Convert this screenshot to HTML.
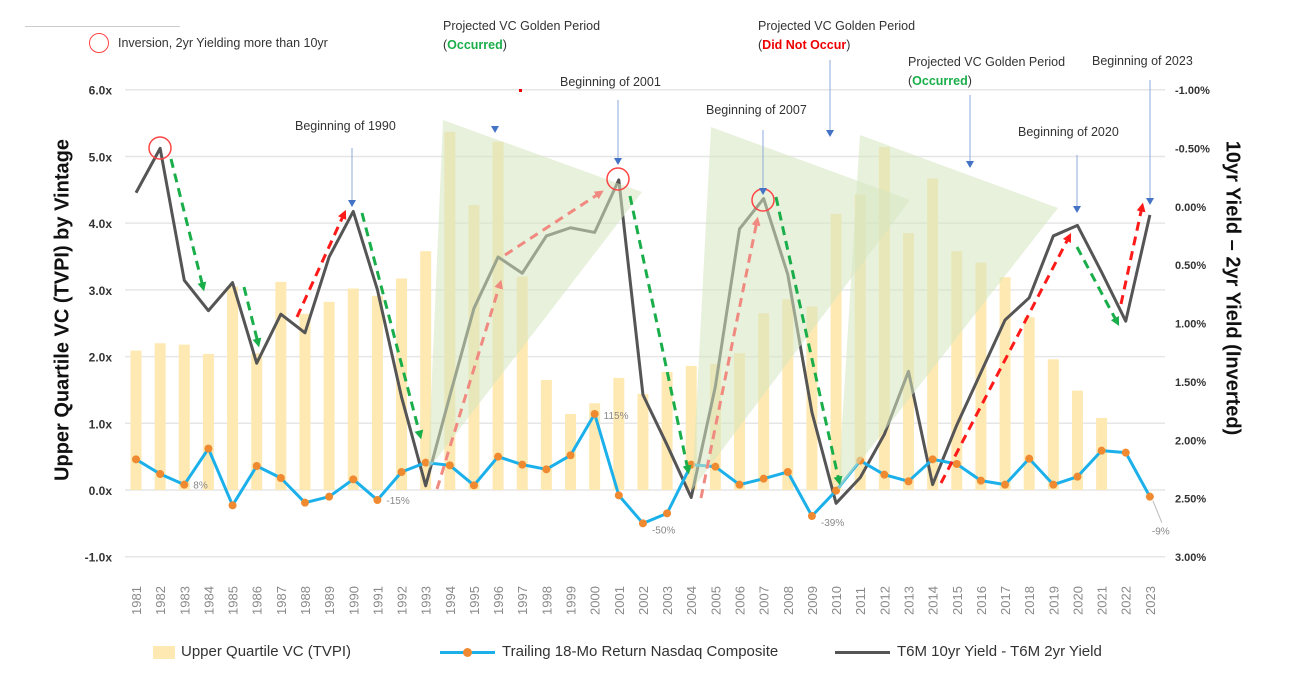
<!DOCTYPE html>
<html><head><meta charset="utf-8"><style>
html,body{margin:0;padding:0;background:#fff;}
svg{display:block;font-family:"Liberation Sans",sans-serif;}
</style></head><body>
<svg id="chart" width="1292" height="690" viewBox="0 0 1292 690">
<defs>
<marker id="ab" markerWidth="8" markerHeight="8" refX="4" refY="6" orient="auto" markerUnits="userSpaceOnUse"><path d="M0,0 L8,0 L4,8 z" fill="#4472c4" transform="rotate(0)"/></marker>
<marker id="ar" viewBox="0 0 10 10" refX="5" refY="5" markerWidth="9" markerHeight="9" orient="auto" markerUnits="userSpaceOnUse"><path d="M0,0 L10,5 L0,10 z" fill="#ff1a1a"/></marker>
<marker id="as" viewBox="0 0 10 10" refX="5" refY="5" markerWidth="9" markerHeight="9" orient="auto" markerUnits="userSpaceOnUse"><path d="M0,0 L10,5 L0,10 z" fill="#f08a80"/></marker>
<marker id="ag" viewBox="0 0 10 10" refX="5" refY="5" markerWidth="9" markerHeight="9" orient="auto" markerUnits="userSpaceOnUse"><path d="M0,0 L10,5 L0,10 z" fill="#1aae4a"/></marker>
<marker id="apg" viewBox="0 0 10 10" refX="5" refY="5" markerWidth="9" markerHeight="9" orient="auto" markerUnits="userSpaceOnUse"><path d="M0,0 L10,5 L0,10 z" fill="#7fd39a"/></marker>
</defs>
<g id="grid"></g>
<g id="bars"></g>
<g id="gray"></g>
<g id="blue"></g>
<g id="tri"></g>
<g id="arrows"></g>
<g id="annot"></g>
<g id="axes"></g>
</svg>
<script>
const years = [];
for (let y = 1981; y <= 2023; y++) years.push(y);
const tvpi = [2.09,2.20,2.18,2.04,3.05,2.05,3.12,2.64,2.82,3.02,2.91,3.17,3.58,5.37,4.27,5.22,3.2,1.65,1.14,1.30,1.68,1.44,1.77,1.86,1.89,2.05,2.65,2.86,2.75,4.14,4.43,5.14,3.85,4.67,3.58,3.41,3.19,2.59,1.96,1.49,1.08,null,null];
const nasdaq = [0.46,0.24,0.08,0.62,-0.23,0.36,0.18,-0.19,-0.10,0.16,-0.15,0.27,0.41,0.37,0.07,0.50,0.38,0.31,0.52,1.14,-0.08,-0.50,-0.35,0.38,0.35,0.08,0.17,0.27,-0.39,-0.01,0.44,0.23,0.13,0.46,0.39,0.14,0.08,0.47,0.08,0.20,0.59,0.56,-0.10];
const spread = [-0.12,-0.50,0.63,0.89,0.65,1.34,0.92,1.08,0.43,0.04,0.71,1.63,2.39,1.62,0.87,0.43,0.57,0.25,0.18,0.22,-0.23,1.61,2.04,2.49,1.54,0.19,-0.07,0.58,1.76,2.54,2.32,1.95,1.41,2.38,1.87,1.42,0.97,0.78,0.25,0.16,0.56,0.98,0.07];
const leftTicks = [6,5,4,3,2,1,0,-1];
const rightTicks = [-1,-0.5,0,0.5,1,1.5,2,2.5,3];
const pctLabels = [[1983,"8%"],[1991,"-15%"],[2000,"115%"],[2002,"-50%"],[2009,"-39%"],[2023,"-9%"]];

const NS = "http://www.w3.org/2000/svg";
const X = yr => 136 + (yr - 1981) * 24.14;
const YL = v => 490 - 66.71 * v;
const YR = r => 206.75 + 116.75 * r;
function mk(parent, tag, attrs, text) {
  const e = document.createElementNS(NS, tag);
  for (const k in attrs) e.setAttribute(k, attrs[k]);
  if (text !== undefined) e.textContent = text;
  document.getElementById(parent).appendChild(e);
  return e;
}

// grid & left ticks
leftTicks.forEach(v => {
  const g = mk("grid", "line", {x1:125, x2:1165, y1:YL(v), y2:YL(v), stroke:"#e6e6e6", "stroke-width":1.5});
  
  
  const t = mk("axes", "text", {x:112, y:YL(v)+5, "text-anchor":"end", "font-size":12, "font-weight":"bold", fill:"#333"}, v.toFixed(1)+"x");
  
  
});
rightTicks.forEach(r => {
  const t = mk("axes", "text", {x:1175, y:YR(r)+4, "font-size":11, "font-weight":"bold", fill:"#333"}, r.toFixed(2)+"%");
  
  
});
years.forEach(yr => {
  const t = mk("axes", "text", {x:0, y:0, transform:`translate(${X(yr)+5},615) rotate(-90)`, "font-size":13, fill:"#8a8a8a"}, yr);
  
  
});

// bars
tvpi.forEach((v, i) => {
  if (v === null) return;
  const b = mk("bars", "rect", {x:X(years[i])-5.5, y:YL(v), width:11, height:YL(0)-YL(v), fill:"#ffe9b3"});
  
  
});

// gray line
const gp = mk("gray", "polyline", {points: spread.map((r,i)=>X(years[i])+","+YR(r)).join(" "), fill:"none", stroke:"#555", "stroke-width":3, "stroke-linejoin":"round"});



// blue line
const bp = mk("blue", "polyline", {points: nasdaq.map((v,i)=>X(years[i])+","+YL(v)).join(" "), fill:"none", stroke:"#1cb0ea", "stroke-width":3, "stroke-linejoin":"round"});


nasdaq.forEach((v,i) => {
  const c = mk("blue", "circle", {cx:X(years[i]), cy:YL(v), r:4, fill:"#f08a30"});
  
  
});
pctLabels.forEach(([yr, lab]) => {
  const i = yr - 1981;
  let x = X(yr)+9, y = YL(nasdaq[i])+4;
  if (yr === 2023) { x = X(yr)+2; y = YL(nasdaq[i])+38; mk("blue","line",{x1:X(yr)+3,y1:YL(nasdaq[i])+4,x2:X(yr)+12,y2:y-12,stroke:"#bbb","stroke-width":1}); }
  if (yr === 2000) { x = X(yr)+9; y = YL(nasdaq[i])+5; }
  if (yr === 2002 || yr === 2009) { y = YL(nasdaq[i])+10; }
  const t = mk("blue", "text", {x:x, y:y, "font-size":10, fill:"#888"}, lab);
  
  
});

// triangles
[[443,120,642,192,428,470],[711,127,910,200,692,490],[860,135,1058,208,838,490]].forEach(p => {
  const t = mk("tri", "polygon", {points:`${p[0]},${p[1]} ${p[2]},${p[3]} ${p[4]},${p[5]}`, fill:"#d6e6c0", opacity:0.55});
  
  
});

// dashed trend arrows
const arr = [
 [171,159,203,287,"#1aae4a","ag"],[244,287,258,343,"#1aae4a","ag"],[297,317,344,214,"#ff1a1a","ar"],
 [362,213,420,435,"#1aae4a","ag"],[437,489,500,284,"#f08a80","as"],[505,255,600,193,"#f08a80","as"],
 [630,196,688,470,"#1aae4a","ag"],[701,498,757,221,"#f08a80","as"],[776,197,839,481,"#1aae4a","ag"],
 [941,483,1069,237,"#ff1a1a","ar"],[1077,247,1117,322,"#1aae4a","ag"],[1121,304,1142,207,"#ff1a1a","ar"]
];
arr.forEach(a => {
  const l = mk("arrows", "line", {x1:a[0],y1:a[1],x2:a[2],y2:a[3],stroke:a[4],"stroke-width":3,"stroke-dasharray":"9,6","marker-end":`url(#${a[5]})`});
  
  
});

// inversion circles
[[160,148],[618,179],[763,200]].forEach(c => {
  const e = mk("annot", "circle", {cx:c[0], cy:c[1], r:11, fill:"none", stroke:"#f44", "stroke-width":1.5});
  
  
});

// annotation pointer arrows
[[495,130,133],[830,60,137],[970,95,168],[1150,80,205],[618,100,165],[352,148,207],[763,130,195],[1077,155,213]].forEach(a => {
  const l = mk("annot", "line", {x1:a[0], y1:a[1], x2:a[0], y2:a[2]-6, stroke:"#8fa9dc", "stroke-width":1});
  
  
  const h = mk("annot", "path", {d:`M${a[0]-4},${a[2]-7} L${a[0]+4},${a[2]-7} L${a[0]},${a[2]} z`, fill:"#4472c4"});
  
  
});
</script>
<svg width="0" height="0" style="position:absolute"></svg>
<div style="position:absolute;left:0;top:0;width:1292px;height:690px;pointer-events:none;font-family:'Liberation Sans',sans-serif;color:#333;">
  <div style="position:absolute;left:25px;top:26px;width:155px;height:1px;background:#ccc"></div>
  <div style="position:absolute;left:89px;top:33px;width:20px;height:20px;border:1.5px solid #f44;border-radius:50%;box-sizing:border-box"></div>
  <div style="position:absolute;left:118px;top:36px;font-size:12.5px">Inversion, 2yr Yielding more than 10yr</div>
  <div style="position:absolute;left:443px;top:17px;font-size:12.5px;line-height:19px">Projected VC Golden Period<br>(<b style="color:#1aae4a">Occurred</b>)</div>
  <div style="position:absolute;left:758px;top:17px;font-size:12.5px;line-height:19px">Projected VC Golden Period<br>(<b style="color:#e00">Did Not Occur</b>)</div>
  <div style="position:absolute;left:908px;top:53px;font-size:12.5px;line-height:19px">Projected VC Golden Period<br>(<b style="color:#1aae4a">Occurred</b>)</div>
  <div style="position:absolute;left:1092px;top:54px;font-size:12.5px">Beginning of 2023</div>
  <div style="position:absolute;left:560px;top:75px;font-size:12.5px">Beginning of 2001</div>
  <div style="position:absolute;left:295px;top:119px;font-size:12.5px">Beginning of 1990</div>
  <div style="position:absolute;left:706px;top:103px;font-size:12.5px">Beginning of 2007</div>
  <div style="position:absolute;left:1018px;top:125px;font-size:12.5px">Beginning of 2020</div>
  <div style="position:absolute;left:519px;top:89px;width:3px;height:3px;background:#e00"></div>
  <div style="position:absolute;left:63px;top:310px;transform:translate(-50%,-50%) rotate(-90deg);white-space:nowrap;font-size:20px;font-weight:bold;color:#111">Upper Quartile VC (TVPI) by Vintage</div>
  <div style="position:absolute;left:1232px;top:288px;transform:translate(-50%,-50%) rotate(90deg);white-space:nowrap;font-size:20px;font-weight:bold;color:#111">10yr Yield – 2yr Yield (Inverted)</div>
  <div style="position:absolute;left:153px;top:646px;width:22px;height:13px;background:#ffe9b3"></div>
  <div style="position:absolute;left:181px;top:643px;font-size:15px">Upper Quartile VC (TVPI)</div>
  <div style="position:absolute;left:440px;top:651px;width:55px;height:3px;background:#1cb0ea"></div>
  <div style="position:absolute;left:463px;top:648px;width:9px;height:9px;border-radius:50%;background:#f08a30"></div>
  <div style="position:absolute;left:502px;top:643px;font-size:15px">Trailing 18-Mo Return Nasdaq Composite</div>
  <div style="position:absolute;left:835px;top:651px;width:55px;height:3px;background:#555"></div>
  <div style="position:absolute;left:897px;top:643px;font-size:15px">T6M 10yr Yield - T6M 2yr Yield</div>
</div>
</body></html>
